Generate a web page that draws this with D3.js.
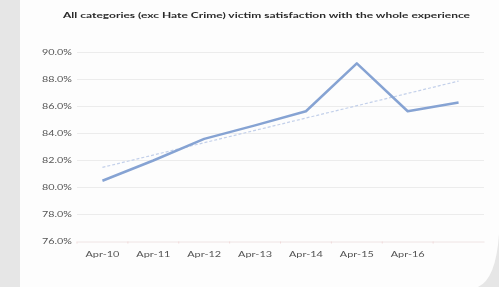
<!DOCTYPE html>
<html>
<head>
<meta charset="utf-8">
<script src="https://cdn.jsdelivr.net/npm/d3@7"></script>
<style>
html,body{margin:0;padding:0;background:#fdfdfd;}
svg{display:block;filter:blur(0.6px);}
</style>
</head>
<body>
<svg id="chart" width="499" height="287"></svg>
<script>
const categories = ["Apr-10","Apr-11","Apr-12","Apr-13","Apr-14","Apr-15","Apr-16",""];
const satisfaction = [80.5, 82.0, 83.6, 84.6, 85.65, 89.2, 85.65, 86.3];
const yTicks = [76, 78, 80, 82, 84, 86, 88, 90];
const title = "All categories (exc Hate Crime) victim satisfaction with the whole experience";

const svg = d3.select("#chart");
const W = 499, H = 287;
const m = {left: 77, right: 15, top: 52.5, bottom: 45.5};
const font = "Lato, 'Open Sans', sans-serif";

svg.append("rect").attr("width", W).attr("height", H).attr("fill", "#fdfdfd");
svg.append("rect").attr("width", 20).attr("height", H).attr("fill", "#e6e6e6");
// bottom-right corner shading
svg.append("path")
  .attr("d", `M${W},234 Q${W-3},${H-8} ${W-21},${H} L${W},${H} Z`)
  .attr("fill", "#e6e6e6");

const x = d3.scaleBand().domain(d3.range(categories.length)).range([m.left, W - m.right]);
const y = d3.scaleLinear().domain([76, 90]).range([H - m.bottom, m.top]);

svg.append("text").attr("x", 63).attr("y", 17.5)
  .attr("font-family", font).attr("font-weight", "bold")
  .attr("font-size", 8.2).attr("fill", "#2a2a2a")
  .attr("textLength", 407).attr("lengthAdjust", "spacingAndGlyphs").text(title);

// gridlines
svg.append("g").selectAll("line").data(yTicks.slice(1)).join("line")
  .attr("x1", m.left).attr("x2", W - m.right)
  .attr("y1", d => y(d)).attr("y2", d => y(d))
  .attr("stroke", "#ececec").attr("stroke-width", 1);

// y axis labels
const yAxis = d3.axisLeft(y).tickValues(yTicks).tickFormat(d => d.toFixed(1) + "%").tickSize(0).tickPadding(5);
const gy = svg.append("g").attr("transform", `translate(${m.left},0)`).call(yAxis);
gy.select(".domain").remove();
gy.selectAll("text").attr("font-family", font).attr("font-size", 7.2).attr("fill", "#555")
  .attr("textLength", 30).attr("lengthAdjust", "spacingAndGlyphs");

// x axis
const xAxis = d3.axisBottom(x).tickFormat(i => categories[i]).tickSize(0).tickPadding(10);
const gx = svg.append("g").attr("transform", `translate(0,${y(76)})`).call(xAxis);
gx.select(".domain").attr("stroke", "#efe4e4");
gx.selectAll("text").attr("font-family", font).attr("font-size", 7.2).attr("fill", "#555")
  .attr("textLength", d => categories[d] ? 34 : null).attr("lengthAdjust", "spacingAndGlyphs");
gx.selectAll(".tick").append("line").attr("x1", -x.bandwidth()/2).attr("x2", -x.bandwidth()/2)
  .attr("y1", 0).attr("y2", 2).attr("stroke", "#f0dada");

const cx = i => x(i) + x.bandwidth() / 2;

// linear trend
const n = satisfaction.length;
const mx = d3.mean(d3.range(n)), my = d3.mean(satisfaction);
const slope = d3.sum(satisfaction, (v, i) => (i - mx) * (v - my)) / d3.sum(d3.range(n), i => (i - mx) ** 2);
const icpt = my - slope * mx;
svg.append("line")
  .attr("x1", cx(0)).attr("y1", y(icpt))
  .attr("x2", cx(n - 1)).attr("y2", y(icpt + slope * (n - 1)))
  .attr("stroke", "#c3d0ea").attr("stroke-width", 1.2).attr("stroke-dasharray", "3,2");

// main line
svg.append("path").datum(satisfaction)
  .attr("d", d3.line().x((d, i) => cx(i)).y(d => y(d)))
  .attr("fill", "none").attr("stroke", "#86a3d3").attr("stroke-width", 2.5)
  .attr("stroke-linejoin", "round");
</script>
</body>
</html>
